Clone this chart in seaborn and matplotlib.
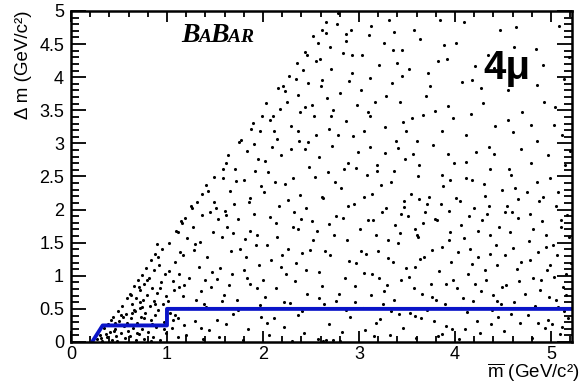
import matplotlib
matplotlib.use("Agg")
import matplotlib.pyplot as plt
import matplotlib.transforms as mtransforms
from matplotlib.ticker import MultipleLocator
import seaborn as sns
import pandas as pd

# events (m_bar, delta_m) in GeV/c^2
lowmass = [(0.27, 0.04), (0.30, 0.11), (0.32, 0.02), (0.34, 0.21), (0.37, 0.07), (0.39, 0.27),
           (0.41, 0.15), (0.43, 0.03), (0.44, 0.38), (0.46, 0.19), (0.47, 0.09), (0.49, 0.47),
           (0.50, 0.31), (0.52, 0.13), (0.53, 0.55), (0.55, 0.24), (0.56, 0.06), (0.57, 0.42),
           (0.58, 0.66), (0.59, 0.17), (0.36, 0.12), (0.42, 0.33), (0.48, 0.02), (0.54, 0.37),
           (0.31, 0.06), (0.46, 0.28), (0.45, 0.17), (0.52, 0.41), (0.58, 0.28), (0.63, 0.71),
           (0.69, 0.14), (0.74, 0.53), (0.79, 0.93), (0.84, 0.27), (0.88, 0.57), (0.93, 0.82),
           (0.97, 0.19), (1.02, 1.07), (1.08, 0.41), (1.13, 0.83), (1.17, 1.31), (0.66, 0.49),
           (0.71, 0.83), (0.76, 0.36), (0.91, 1.29), (0.99, 0.69)]
m06_10 = [(0.61, 0.72), (0.62, 0.09), (0.63, 0.36), (0.64, 0.58), (0.65, 0.21), (0.66, 0.84),
          (0.67, 0.47), (0.675, 0.03), (0.68, 0.66), (0.69, 0.29), (0.70, 0.94), (0.71, 0.12),
          (0.715, 0.52), (0.72, 0.78), (0.73, 0.38), (0.74, 1.01), (0.745, 0.19), (0.75, 0.63),
          (0.76, 0.05), (0.765, 0.87), (0.77, 0.44), (0.78, 1.12), (0.79, 0.26), (0.795, 0.71),
          (0.80, 0.15), (0.81, 0.97), (0.82, 0.55), (0.83, 1.24), (0.835, 0.33), (0.84, 0.81),
          (0.85, 0.08), (0.86, 0.62), (0.87, 1.08), (0.875, 0.41), (0.88, 1.33), (0.89, 0.22),
          (0.90, 0.74), (0.91, 0.49), (0.92, 1.17), (0.93, 0.03), (0.94, 0.91), (0.95, 1.41),
          (0.96, 0.58), (0.97, 0.30), (0.98, 1.02), (0.99, 0.13), (0.64, 0.44), (0.72, 0.60),
          (0.83, 0.02), (0.90, 1.48)]
m10_15 = [(1.03, 0.44), (1.37, 1.92), (1.12, 0.07), (1.46, 0.83), (1.21, 1.57), (1.08, 1.21),
          (1.29, 0.31), (1.41, 2.37), (1.17, 0.69), (1.33, 1.14), (1.02, 1.49), (1.25, 2.05),
          (1.44, 0.18), (1.15, 1.83), (1.39, 0.58), (1.06, 0.92), (1.48, 1.66), (1.23, 0.97),
          (1.31, 2.12), (1.11, 0.36), (1.42, 1.28), (1.19, 1.88), (1.35, 0.77), (1.05, 0.21),
          (1.27, 1.73), (1.49, 2.49), (1.14, 1.36), (1.38, 0.04), (1.22, 0.52), (1.45, 1.97),
          (1.09, 1.67), (1.30, 0.63), (1.47, 1.06), (1.18, 0.25), (1.34, 1.51), (1.26, 2.02),
          (1.01, 0.62), (1.40, 0.94), (1.13, 1.02), (1.43, 2.28), (1.20, 0.11), (1.36, 2.24),
          (1.07, 0.78), (1.28, 1.39), (1.16, 1.79)]
m15_20 = [(1.52, 0.33), (1.88, 3.21), (1.63, 1.74), (1.97, 0.56), (1.71, 2.62), (1.55, 1.12),
          (1.84, 0.19), (1.66, 2.28), (1.93, 1.47), (1.59, 0.71), (1.77, 3.05), (1.51, 2.03),
          (1.82, 1.29), (1.69, 0.42), (1.95, 2.77), (1.61, 2.71), (1.74, 1.86), (1.87, 0.88),
          (1.57, 1.58), (1.99, 3.42), (1.68, 1.03), (1.80, 2.44), (1.54, 0.08), (1.91, 1.93),
          (1.73, 0.64), (1.64, 2.83), (1.85, 2.11), (1.58, 2.47), (1.96, 1.17), (1.76, 1.41),
          (1.62, 0.27), (1.90, 3.31), (1.70, 2.09), (1.83, 0.97), (1.53, 1.86), (1.98, 2.36),
          (1.67, 1.37), (1.79, 0.03), (1.94, 0.81), (1.60, 1.98), (1.86, 1.67), (1.75, 3.02),
          (1.65, 0.86), (1.92, 2.58), (1.81, 1.55)]
m20_25 = [(2.03, 3.61), (2.41, 0.47), (2.17, 2.06), (2.46, 4.33), (2.08, 1.24), (2.29, 3.27),
          (2.36, 1.71), (2.12, 0.36), (2.48, 2.64), (2.21, 3.86), (2.05, 2.57), (2.33, 0.92),
          (2.44, 3.55), (2.15, 1.58), (2.27, 4.02), (2.39, 2.22), (2.02, 0.68), (2.24, 1.03),
          (2.49, 1.39), (2.11, 3.18), (2.35, 4.21), (2.19, 2.83), (2.43, 0.14), (2.07, 1.89),
          (2.31, 2.48), (2.47, 3.91), (2.14, 0.81), (2.26, 1.41), (2.38, 3.04), (2.01, 2.26),
          (2.22, 0.22), (2.45, 2.03), (2.18, 3.52), (2.34, 1.19), (2.09, 2.94), (2.42, 4.11),
          (2.28, 0.59), (2.04, 1.47), (2.37, 3.73), (2.23, 2.39), (2.16, 3.84), (2.40, 1.86),
          (2.30, 0.02), (2.13, 2.41), (2.46, 0.73), (2.25, 3.63), (2.06, 0.11), (2.32, 1.97),
          (2.20, 1.31), (2.44, 2.91)]
m25_30 = [(2.52, 4.62), (2.91, 0.38), (2.63, 2.17), (2.77, 4.81), (2.58, 1.06), (2.86, 3.34),
          (2.69, 0.27), (2.95, 2.08), (2.55, 3.12), (2.74, 1.62), (2.83, 4.37), (2.61, 4.71),
          (2.97, 1.19), (2.67, 3.69), (2.79, 0.73), (2.51, 1.83), (2.89, 2.71), (2.72, 2.96),
          (2.57, 0.04), (2.93, 4.06), (2.65, 1.37), (2.81, 2.33), (2.54, 2.49), (2.98, 3.58),
          (2.70, 4.46), (2.85, 0.96), (2.60, 3.87), (2.76, 1.91), (2.92, 4.72), (2.64, 0.58),
          (2.88, 1.54), (2.53, 3.41), (2.80, 3.76), (2.68, 2.57), (2.96, 0.61), (2.59, 4.28),
          (2.84, 2.61), (2.73, 0.03), (2.99, 2.87), (2.62, 0.84), (2.78, 3.13), (2.56, 1.68),
          (2.90, 1.22), (2.66, 4.66), (2.82, 0.15), (2.71, 3.42), (2.94, 3.11), (2.58, 2.79),
          (2.87, 4.54), (2.75, 2.41), (2.63, 0.02), (2.66, 0.03), (2.80, 0.02)]
m30_35 = [(3.04, 0.52), (3.38, 1.77), (3.12, 2.94), (3.46, 0.21), (3.21, 4.18), (3.07, 1.33),
          (3.29, 0.86), (3.43, 3.62), (3.16, 0.09), (3.33, 2.41), (3.02, 3.81), (3.49, 1.12),
          (3.24, 1.96), (3.10, 4.63), (3.36, 0.63), (3.19, 2.68), (3.45, 4.41), (3.27, 3.24),
          (3.05, 2.19), (3.41, 1.49), (3.14, 1.02), (3.31, 4.87), (3.22, 0.34), (3.48, 2.77),
          (3.09, 3.47), (3.35, 1.21), (3.18, 1.61), (3.44, 0.94), (3.26, 4.52), (3.01, 1.71),
          (3.39, 3.03), (3.13, 0.71), (3.47, 2.13), (3.23, 2.37), (3.06, 0.18), (3.34, 3.91),
          (3.20, 1.38), (3.42, 0.42), (3.28, 2.02), (3.11, 3.99), (3.37, 2.58), (3.03, 4.34),
          (3.25, 0.57), (3.46, 3.33), (3.15, 1.84), (3.32, 0.11), (3.40, 4.21), (3.08, 2.52),
          (3.30, 1.54), (3.17, 3.63), (3.44, 1.93), (3.21, 0.97), (3.36, 4.68), (3.05, 1.04),
          (3.27, 2.86)]
m35_40 = [(3.53, 0.44), (3.88, 2.36), (3.61, 1.58), (3.97, 0.19), (3.70, 3.71), (3.56, 2.84),
          (3.83, 1.07), (3.66, 0.72), (3.92, 4.27), (3.51, 1.91), (3.78, 0.31), (3.64, 4.58),
          (3.95, 1.66), (3.73, 2.19), (3.59, 0.06), (3.86, 3.18), (3.68, 1.29), (3.99, 2.71),
          (3.55, 3.39), (3.81, 1.84), (3.75, 0.88), (3.62, 2.51), (3.90, 0.57), (3.52, 4.12),
          (3.84, 4.86), (3.69, 1.96), (3.96, 1.21), (3.58, 1.14), (3.77, 2.97), (3.93, 3.56),
          (3.65, 0.36), (3.80, 0.63), (3.54, 2.23), (3.87, 1.43), (3.72, 4.07), (3.98, 0.93),
          (3.60, 3.04), (3.85, 2.09), (3.67, 1.79), (3.91, 0.24), (3.57, 0.81), (3.79, 3.49),
          (3.94, 1.98), (3.63, 2.16), (3.76, 1.39), (3.89, 4.49), (3.71, 0.49), (3.82, 0.09),
          (3.58, 1.71), (3.95, 2.44)]
m40_45 = [(4.03, 1.36), (4.38, 0.27), (4.11, 2.48), (4.46, 1.73), (4.19, 0.62), (4.07, 3.92),
          (4.31, 1.08), (4.42, 3.27), (4.15, 1.91), (4.26, 0.14), (4.49, 2.29), (4.02, 0.81),
          (4.34, 4.33), (4.22, 2.87), (4.09, 1.57), (4.40, 0.71), (4.17, 3.44), (4.28, 1.84),
          (4.45, 0.38), (4.05, 2.13), (4.36, 2.61), (4.13, 0.46), (4.24, 1.29), (4.47, 4.71),
          (4.01, 4.52), (4.32, 0.93), (4.20, 2.02), (4.43, 1.47), (4.10, 0.19), (4.29, 3.61),
          (4.37, 1.62), (4.14, 1.02), (4.48, 0.57), (4.23, 0.31), (4.06, 1.76), (4.35, 2.06),
          (4.18, 3.96), (4.41, 2.84), (4.27, 0.77), (4.12, 2.72), (4.44, 1.17), (4.04, 0.04),
          (4.33, 1.93), (4.21, 4.17), (4.39, 0.49), (4.16, 1.41), (4.30, 2.39), (4.08, 0.66)]
m45_50 = [(4.53, 0.86), (4.88, 2.13), (4.61, 1.42), (4.97, 0.33), (4.70, 3.48), (4.56, 2.61),
          (4.83, 0.54), (4.66, 1.88), (4.92, 4.19), (4.51, 0.17), (4.78, 1.24), (4.64, 4.76),
          (4.95, 1.61), (4.73, 0.72), (4.59, 1.97), (4.86, 3.03), (4.68, 0.29), (4.99, 2.48),
          (4.55, 3.81), (4.81, 1.71), (4.75, 2.27), (4.62, 0.61), (4.90, 0.94), (4.52, 1.31),
          (4.84, 4.42), (4.69, 2.91), (4.96, 1.08), (4.58, 0.43), (4.77, 1.53), (4.93, 3.62),
          (4.65, 1.11), (4.80, 0.06), (4.54, 2.06), (4.87, 1.36), (4.72, 4.03), (4.98, 0.68),
          (4.60, 3.17), (4.85, 2.42), (4.67, 0.92), (4.91, 1.83), (4.57, 1.66), (4.79, 3.28),
          (4.94, 0.21), (4.63, 2.33), (4.76, 0.41), (4.89, 0.78)]
m50_52 = [(5.02, 1.47), (5.18, 0.36), (5.07, 2.27), (5.13, 0.83), (5.04, 3.55), (5.21, 1.19),
          (5.09, 0.12), (5.15, 2.68), (5.05, 0.64), (5.19, 4.31), (5.11, 1.73), (5.03, 0.98),
          (5.17, 1.92), (5.08, 4.77), (5.14, 0.47), (5.20, 2.89), (5.06, 1.31), (5.12, 3.12),
          (5.01, 0.27), (5.16, 1.02)]
low_dm = [(1.06, 0.33), (1.52, 0.95), (1.94, 1.62), (2.37, 0.41), (2.83, 1.87), (3.26, 0.77),
          (3.71, 2.08), (4.18, 1.18), (4.63, 0.52), (5.10, 1.84), (1.18, 0.86), (1.61, 1.92),
          (2.04, 0.28), (2.52, 1.54), (2.96, 0.84), (3.43, 1.64), (3.87, 0.12), (4.31, 2.21),
          (4.78, 1.93), (5.16, 0.71), (1.29, 1.48), (1.74, 0.48), (2.19, 1.13), (2.61, 2.19),
          (3.09, 1.84), (3.52, 0.98), (3.94, 1.54), (4.44, 0.62), (4.87, 0.28), (5.05, 2.06),
          (1.41, 0.53), (1.86, 2.18), (2.31, 1.73), (2.76, 0.62), (3.18, 0.29), (3.64, 1.26),
          (4.06, 0.52), (4.52, 1.96), (4.95, 1.43), (5.19, 1.58), (1.12, 1.66), (1.57, 0.62),
          (2.00, 0.94), (2.45, 1.08), (2.89, 2.06), (3.33, 0.47), (3.79, 1.86), (4.24, 1.68),
          (4.69, 1.21), (5.12, 0.22), (1.35, 0.21), (1.80, 1.08), (2.26, 2.14), (2.70, 1.31),
          (3.14, 2.23), (3.58, 0.39), (4.01, 2.17), (4.49, 0.83), (4.92, 2.19), (5.07, 0.53),
          (1.49, 2.11), (1.98, 0.38), (2.41, 1.34), (2.87, 0.49), (3.30, 1.27), (3.76, 0.68),
          (4.21, 0.87), (4.66, 2.16), (4.99, 1.16), (1.69, 1.64), (2.14, 1.79), (2.58, 0.67),
          (3.02, 1.38), (3.47, 2.04), (3.91, 0.87), (4.36, 1.33), (4.81, 0.97), (2.22, 0.61),
          (2.69, 1.78), (3.60, 1.62)]
high_dm = [(1.58, 2.62), (1.83, 2.89), (1.97, 3.18), (2.10, 3.41), (2.23, 3.79), (2.34, 3.97),
           (2.44, 4.38), (2.57, 4.52), (2.66, 4.83), (2.78, 4.97), (2.02, 2.74), (2.29, 2.91),
           (2.51, 3.58), (2.71, 4.12), (2.93, 4.33), (3.13, 4.78), (3.35, 4.41), (3.57, 4.71),
           (3.82, 4.24), (4.09, 4.83), (2.15, 3.07), (2.39, 3.48), (2.62, 3.96), (2.86, 4.65),
           (3.05, 3.19), (3.28, 3.71), (3.49, 3.18), (3.74, 3.86), (3.98, 3.39), (4.27, 3.83),
           (2.47, 3.02), (2.73, 3.51), (2.97, 2.63), (3.19, 2.59), (3.41, 2.93), (3.63, 2.67),
           (3.86, 2.53), (4.12, 3.12), (4.35, 2.94), (4.58, 2.52), (4.79, 2.71), (5.03, 3.28),
           (4.41, 4.14), (4.62, 4.46), (4.86, 3.88), (5.14, 3.97), (4.18, 2.44), (4.55, 3.36),
           (4.97, 2.82), (3.93, 2.84), (1.72, 2.43), (1.91, 2.99), (2.07, 3.36), (2.36, 3.19),
           (2.55, 4.24), (2.69, 3.21), (2.90, 3.94), (3.11, 3.42), (3.45, 4.02), (3.67, 3.43)]

# selection boundary (blue)
cut_m = [0.22, 0.33, 1.0, 1.0, 5.22]
cut_dm = [0.0, 0.25, 0.25, 0.5, 0.5]

groups = [lowmass, m06_10, m10_15, m15_20, m20_25, m25_30, m30_35, m35_40,
          m40_45, m45_50, m50_52, low_dm, high_dm]
events = pd.DataFrame([p for g in groups for p in g], columns=["m_bar", "delta_m"])
cut = pd.DataFrame({"m_bar": cut_m, "delta_m": cut_dm})

sns.set_style("ticks")
plt.rcParams["font.family"] = ["Liberation Sans", "DejaVu Sans"]
plt.rcParams["mathtext.fontset"] = "custom"
plt.rcParams["mathtext.rm"] = "Liberation Sans"
plt.rcParams["text.color"] = "black"
plt.rcParams["axes.labelcolor"] = "black"

fig = plt.figure(figsize=(5.79, 3.84), dpi=100)
ax = fig.add_axes([0.1226, 0.1094, 0.8654, 0.862])

sns.scatterplot(data=events, x="m_bar", y="delta_m", ax=ax, color="black",
                s=5, linewidth=0, legend=False)
sns.lineplot(data=cut, x="m_bar", y="delta_m", ax=ax, sort=False, estimator=None,
             color="#0a14c8", linewidth=2.8)

ax.set_xlim(0, 5.22)
ax.set_ylim(0, 5)
ax.xaxis.set_major_locator(MultipleLocator(1))
ax.xaxis.set_minor_locator(MultipleLocator(0.2))
ax.yaxis.set_major_locator(MultipleLocator(0.5))
ax.yaxis.set_minor_locator(MultipleLocator(0.1))
ax.yaxis.set_major_formatter(plt.FuncFormatter(lambda v, p: f"{v:g}"))
ax.tick_params(which="both", direction="in", top=True, right=True, width=1.3,
               labelsize=13, colors="black")
ax.tick_params(axis="y", which="major", length=11, pad=5)
ax.tick_params(axis="y", which="minor", length=5.5)
ax.tick_params(axis="x", which="major", length=8, pad=3)
ax.tick_params(axis="x", which="minor", length=4.5)
for sp in ax.spines.values():
    sp.set_linewidth(1.8)
    sp.set_color("black")

ax.set_xlabel(r"$\overline{\mathrm{m}}$ (GeV/c²)", fontsize=13.5, ha="right")
ax.xaxis.set_label_coords(1.014, -0.094)
ax.set_ylabel("Δ m (GeV/c²)", fontsize=13.5, ha="right")
ax.yaxis.set_label_coords(-0.094, 1.0)
ax.yaxis.label.set_va("center")
ax.xaxis.label.set_va("center")

ax.text(4.30, 3.97, "4μ", fontsize=29, fontweight="bold", ha="left", va="baseline",
        color="black")

# BaBar logo, big B's and small capitals
fig.canvas.draw()
renderer = fig.canvas.get_renderer()
trans = ax.transData
for ch, size in [("B", 20), ("A", 14), ("B", 20), ("A", 14), ("R", 14)]:
    t = ax.text(1.146, 4.53, ch, transform=trans, fontsize=size, fontweight="bold",
                fontstyle="italic", family=["Liberation Serif", "DejaVu Serif"],
                ha="left", va="baseline", color="black")
    w = t.get_window_extent(renderer).width
    trans = mtransforms.offset_copy(trans, fig=fig, x=w * 0.93, y=0, units="dots")

fig.savefig("out.png", dpi=100)
